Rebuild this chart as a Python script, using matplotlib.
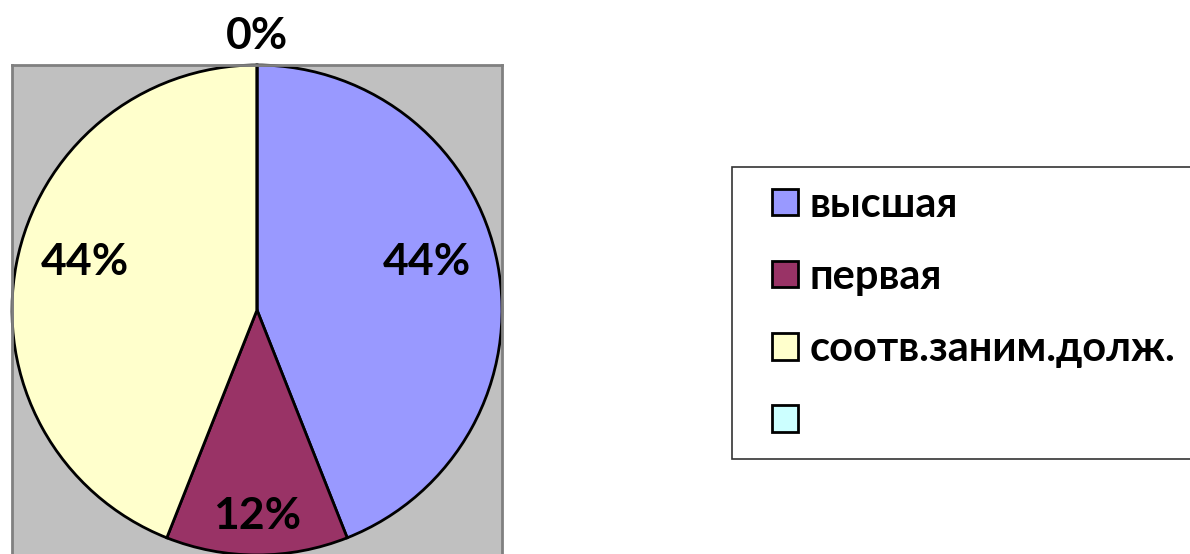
import numpy as np
import matplotlib.pyplot as plt
from matplotlib.patches import Rectangle
from matplotlib.legend_handler import HandlerPatch

plt.rcParams["font.family"] = ["Lato", "DejaVu Sans"]
plt.rcParams["font.weight"] = "bold"

categories = ["высшая", "первая", "соотв.заним.долж.", ""]
counts = [11, 3, 11, 0]
pct_labels = ["44%", "12%", "44%", "0%"]
colors = ["#9999FF", "#993366", "#FFFFCC", "#CCFFFF"]

fig = plt.figure(figsize=(11.9, 5.54), dpi=100)
ax = fig.add_axes([12 / 1190, -1 / 554, 490 / 1190, 490 / 554])

wedges, _ = ax.pie(counts, colors=colors, startangle=90, counterclock=False,
                   radius=1, wedgeprops=dict(edgecolor="black", linewidth=2))

# plot area: grey box with darker border
ax.set_frame_on(True)
ax.set_facecolor("#C0C0C0")
for sp in ax.spines.values():
    sp.set_color("#808080")
    sp.set_linewidth(2)
ax.set_xlim(-1, 1)
ax.set_ylim(-1, 1)

# percentage labels, roughly where Excel put them
dists = [0.72, 0.84, 0.73, 1.12]
shifts = [5, 0, -4.7, 0]
for w, lab, d, s in zip(wedges, pct_labels, dists, shifts):
    ang = np.deg2rad((w.theta1 + w.theta2) / 2 + s)
    ax.text(d * np.cos(ang), d * np.sin(ang), lab, ha="center", va="center",
            fontsize=32, fontweight="bold", clip_on=False)


# square legend keys pushed to the right of the handle area
def square(legend, orig_handle, xdescent, ydescent, width, height, fontsize):
    return Rectangle((width - height - xdescent, -ydescent), height, height)


leg = fig.legend(wedges, categories, loc="upper left",
                 bbox_to_anchor=(732 / 1190, 1 - 167 / 554),
                 fontsize=30, frameon=True, fancybox=False, edgecolor="black",
                 handlelength=1.14, handleheight=0.6, handletextpad=0.27,
                 labelspacing=0.82, borderpad=0.45, borderaxespad=0,
                 handler_map={w: HandlerPatch(patch_func=square) for w in wedges})
leg.get_frame().set_linewidth(1.2)
for h in leg.legend_handles:
    h.set_edgecolor("black")
    h.set_linewidth(2)

fig.savefig("out.png", dpi=100)
